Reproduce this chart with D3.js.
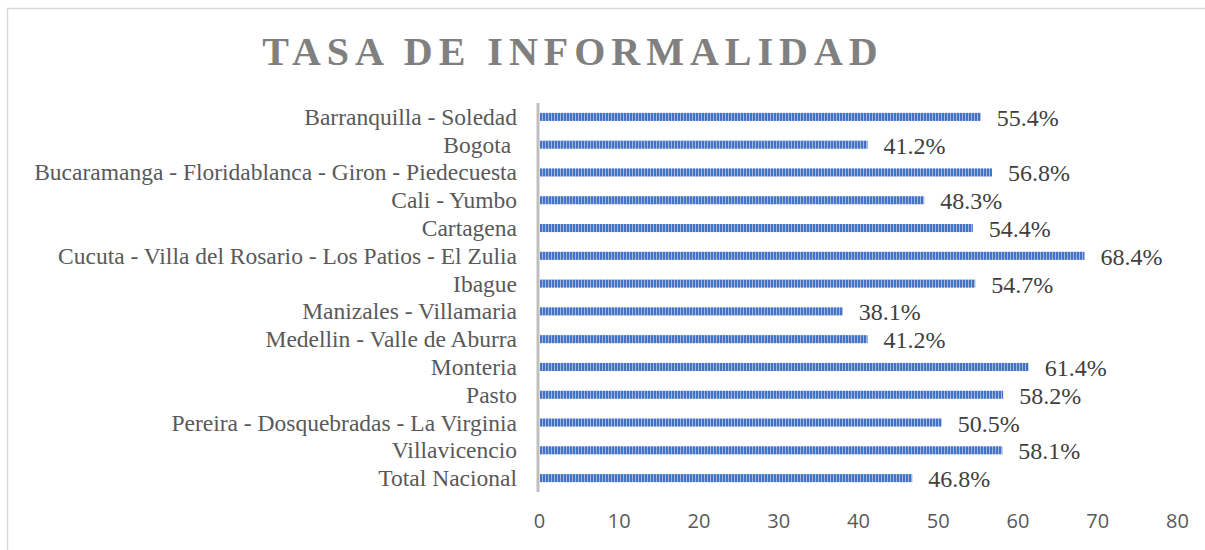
<!DOCTYPE html>
<html>
<head>
<meta charset="utf-8">
<script src="https://cdn.jsdelivr.net/npm/d3@7"></script>
<style>
  body { margin: 0; background: #fff; }
  text { white-space: pre; }
</style>
</head>
<body>
<div id="chart"></div>
<script>
const categories = [
  "Barranquilla - Soledad",
  "Bogota ",
  "Bucaramanga - Floridablanca - Giron - Piedecuesta",
  "Cali - Yumbo",
  "Cartagena",
  "Cucuta - Villa del Rosario - Los Patios - El Zulia",
  "Ibague",
  "Manizales - Villamaria",
  "Medellin - Valle de Aburra",
  "Monteria",
  "Pasto",
  "Pereira - Dosquebradas - La Virginia",
  "Villavicencio",
  "Total Nacional"
]
const values = [55.4, 41.2, 56.8, 48.3, 54.4, 68.4, 54.7, 38.1, 41.2, 61.4, 58.2, 50.5, 58.1, 46.8]
const xTicks = [0, 10, 20, 30, 40, 50, 60, 70, 80]
const title = "TASA DE INFORMALIDAD"

// DIMENSIONS
const width = 1205
const height = 550
const plot = { left: 539, right: 1177, top: 103, bottom: 492 }
const serif = "'Liberation Serif', 'Times New Roman', serif"

const svg = d3.select("#chart")
  .append("svg")
  .attr("width", width)
  .attr("height", height)

// striped fill like the original
const pattern = svg.append("defs").append("pattern")
  .attr("id", "stripes")
  .attr("patternUnits", "userSpaceOnUse")
  .attr("width", 3)
  .attr("height", 10)
pattern.append("rect").attr("width", 3).attr("height", 10).attr("fill", "#4472c4")
pattern.append("rect").attr("x", 2).attr("width", 1).attr("height", 10).attr("fill", "#a3b8e0")

// outer border
svg.append("rect")
  .attr("x", 7.5).attr("y", 8.5)
  .attr("width", 1200).attr("height", 545)
  .attr("fill", "none")
  .attr("stroke", "#d9d9d9")
  .attr("stroke-width", 1.5)

svg.append("text")
  .attr("x", 573)
  .attr("y", 65)
  .attr("text-anchor", "middle")
  .attr("font-family", serif)
  .attr("font-weight", "bold")
  .attr("font-size", 40)
  .attr("letter-spacing", 6)
  .attr("fill", "#808080")
  .text(title)

const xScale = d3.scaleLinear()
  .domain([0, 80])
  .range([plot.left, plot.right])

const yScale = d3.scaleBand()
  .domain(categories)
  .range([plot.top, plot.bottom])
  .paddingInner(0.71)
  .paddingOuter(0.355)

svg.selectAll("rect.bar").data(values).enter()
  .append("rect")
  .attr("class", "bar")
  .attr("x", xScale(0) + 1)
  .attr("y", (d, i) => yScale(categories[i]))
  .attr("width", (d) => xScale(d) - xScale(0) - 1)
  .attr("height", yScale.bandwidth())
  .attr("fill", "url(#stripes)")

svg.selectAll("text.value").data(values).enter()
  .append("text")
  .attr("class", "value")
  .attr("x", (d) => xScale(d) + 16)
  .attr("y", (d, i) => yScale(categories[i]) + yScale.bandwidth() / 2 + 9)
  .attr("font-family", serif)
  .attr("font-size", 24)
  .attr("fill", "#404040")
  .text((d) => d.toFixed(1) + "%")

svg.selectAll("text.cat").data(categories).enter()
  .append("text")
  .attr("class", "cat")
  .attr("x", plot.left - 22)
  .attr("y", (d) => yScale(d) + yScale.bandwidth() / 2 + 8)
  .attr("text-anchor", "end")
  .attr("font-family", serif)
  .attr("font-size", 23.5)
  .attr("fill", "#595959")
  .text((d) => d)

// vertical axis line
svg.append("line")
  .attr("x1", xScale(0) - 1).attr("x2", xScale(0) - 1)
  .attr("y1", plot.top).attr("y2", plot.bottom)
  .attr("stroke", "#bfbfbf")
  .attr("stroke-width", 3)

const xAxis = svg.append("g")
  .attr("transform", `translate(0, ${plot.bottom})`)
  .call(d3.axisBottom(xScale).tickValues(xTicks).tickSize(0).tickPadding(22))
xAxis.select(".domain").remove()
xAxis.selectAll("text")
  .attr("font-family", "'Open Sans', 'Noto Sans', sans-serif")
  .attr("font-size", 20)
  .attr("fill", "#595959")
</script>
</body>
</html>
